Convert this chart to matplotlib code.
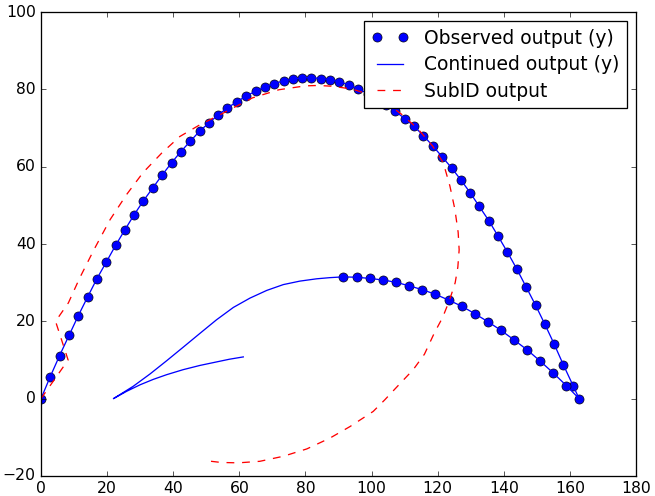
import matplotlib
matplotlib.use("Agg")
import matplotlib.pyplot as plt

# Observed output: ascending/descending first arc, then the rebound arc
obs_x = [0.0, 2.8, 5.6, 8.5, 11.3, 14.1, 16.9, 19.8, 22.6, 25.4, 28.2, 31.0, 33.9,
         36.7, 39.5, 42.3, 45.2, 48.0, 50.8, 53.6, 56.4, 59.3, 62.1, 64.9, 67.7,
         70.6, 73.4, 76.2, 79.0, 81.8, 84.7, 87.5, 90.3, 93.1, 96.0, 98.8, 101.6,
         104.4, 107.2, 110.1, 112.9, 115.7, 118.5, 121.3, 124.2, 127.0, 129.8,
         132.6, 135.5, 138.3, 141.1, 143.9, 146.7, 149.6, 152.4, 155.2, 158.0,
         161.0, 162.8,
         158.9, 154.9, 150.9, 147.1, 143.1, 139.1, 135.2, 131.2, 127.3, 123.3,
         119.3, 115.3, 111.3, 107.4, 103.4, 99.4, 95.5, 91.4]
obs_y = [0.0, 5.7, 11.1, 16.4, 21.5, 26.3, 31.0, 35.4, 39.7, 43.7, 47.6, 51.2, 54.6,
         57.9, 61.0, 63.9, 66.6, 69.2, 71.3, 73.4, 75.2, 76.8, 78.3, 79.5, 80.6,
         81.5, 82.2, 82.6, 83.0, 83.0, 82.8, 82.5, 81.9, 81.2, 80.1, 78.9, 77.5,
         76.0, 74.3, 72.4, 70.4, 68.0, 65.4, 62.6, 59.7, 56.6, 53.3, 49.7, 46.0,
         42.0, 37.9, 33.6, 29.0, 24.2, 19.3, 14.2, 8.8, 3.3, 0.0,
         3.4, 6.7, 9.8, 12.6, 15.2, 17.7, 19.9, 22.0, 23.9, 25.5, 27.0, 28.2,
         29.2, 30.1, 30.7, 31.1, 31.4, 31.5]

# Continuation beyond the observed samples
cont_x = [87.4, 83.4, 78.3, 73.3, 68.3, 63.2, 58.2, 53.1, 48.1, 43.0, 38.0, 33.0,
          27.9, 21.9, 25.9, 30.0, 34.0, 38.0, 43.0, 48.1, 53.1, 57.0, 61.2]
cont_y = [31.3, 31.0, 30.4, 29.5, 28.0, 26.0, 23.6, 20.4, 16.9, 13.3, 9.8, 6.4,
          3.2, 0.0, 1.9, 3.6, 5.0, 6.2, 7.5, 8.6, 9.5, 10.2, 10.8]

# SubID output
sub_x = [0.0, 8.2, 4.4, 8.3, 11.7, 16.0, 20.9, 25.9, 30.9, 36.5, 42.0, 48.0, 55.0,
         64.0, 72.0, 80.0, 84.0, 88.0, 94.0, 100.0, 105.0, 109.0, 114.0, 118.5,
         121.7, 123.7, 125.2, 126.2, 126.5, 126.1, 125.3, 123.6, 121.5, 119.0,
         116.0, 112.6, 108.5, 104.0, 100.5, 93.5, 87.4, 80.4, 73.3, 66.2, 59.7,
         54.5, 50.5]
sub_y = [0.0, 10.0, 20.0, 24.8, 31.2, 38.5, 46.3, 52.8, 58.5, 63.5, 67.8, 70.8, 73.8,
         77.8, 79.9, 80.9, 81.0, 80.8, 80.1, 78.5, 76.2, 73.6, 69.8, 65.3,
         61.0, 55.0, 49.0, 43.0, 38.5, 34.0, 30.0, 25.5, 21.0, 17.0,
         11.5, 7.5, 3.8, -0.3, -3.3, -7.2, -10.2, -13.0, -14.9, -16.2, -16.6,
         -16.5, -16.1]

labels = ["Observed output (y)", "Continued output (y)", "SubID output"]

plt.style.use("classic")
plt.rcParams["figure.facecolor"] = "white"
plt.rcParams["savefig.facecolor"] = "white"

dpi = 93.5
fig = plt.figure(figsize=(655 / dpi, 496 / dpi), dpi=dpi)
ax = fig.add_axes([41 / 655, 1 - 476 / 496, 595 / 655, 464 / 496])

ax.plot(obs_x, obs_y, "bo", mec="k", mew=0.5, ms=7, label=labels[0])
ax.plot(obs_x + cont_x, obs_y + cont_y, "b-", lw=1.0, label=labels[1])
ax.plot(sub_x, sub_y, "r--", lw=1.0, label=labels[2])

ax.set_xlim(0, 180)
ax.set_ylim(-20, 100)
ax.legend(loc="upper right", numpoints=2, labelspacing=0.4)

fig.savefig("out.png", dpi=dpi, facecolor="white")
